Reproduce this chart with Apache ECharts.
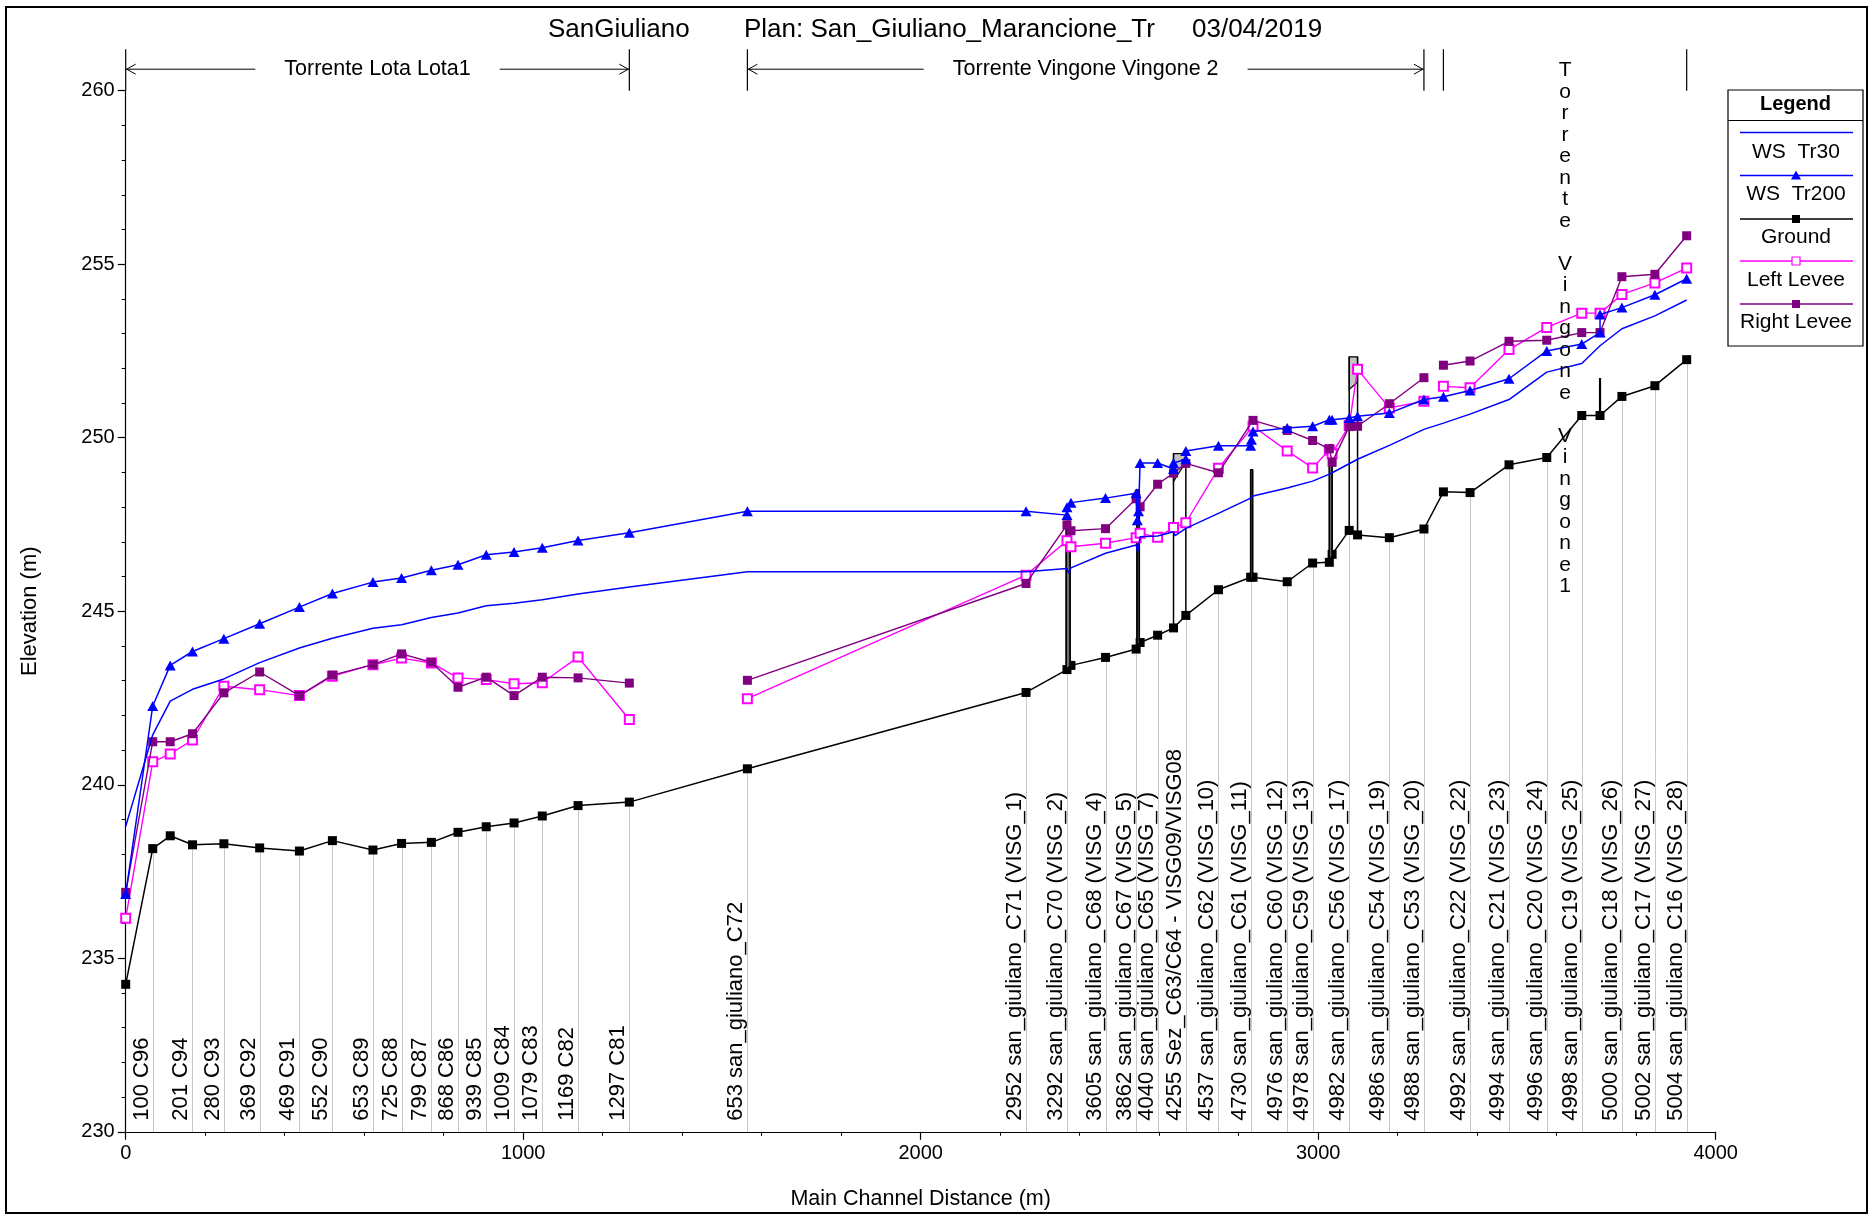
<!DOCTYPE html>
<html>
<head>
<meta charset="utf-8">
<script src="https://cdn.jsdelivr.net/npm/echarts@6/dist/echarts.min.js"></script>
<style>html,body{margin:0;padding:0;background:#fff}#c{width:1872px;height:1216px}</style>
</head>
<body>
<div id="c"></div>
<script>
const FONT = '"Liberation Sans", Arial, sans-serif';

// ---------------- DATA ----------------
const groundX = [0,68,112,168,247,337,437,520,622,694,769,836,907,977,1048,1138,1267,
  1564,2265,2368,2378,2465,2542,2552,2596,2636,2667,2749,2830,2836,2922,2986,3028,3035,3078,3099,3179,3266,
  3315,3382,3480,3575,3663,3709,3764,3847,3927];
const groundY = [234.25,238.16,238.53,238.27,238.30,238.18,238.09,238.39,238.12,238.31,238.34,238.63,238.79,238.90,239.10,239.40,239.50,
  240.46,242.66,243.32,243.44,243.67,243.91,244.10,244.31,244.52,244.88,245.62,245.98,245.98,245.85,246.39,246.41,246.64,247.33,247.20,247.12,247.37,
  248.44,248.42,249.22,249.43,250.64,250.64,251.19,251.50,252.25];

const wsTr30X = [0,68,112,168,247,337,437,520,622,694,769,836,907,977,1048,1138,1267,
  1564,2265,2368,2372,2378,2465,2542,2546,2552,2596,2636,2640,2667,2749,2830,2836,2922,2986,3028,3035,3078,3099,3179,3266,
  3315,3382,3480,3575,3663,3709,3764,3847,3927];
const wsTr30Y = [238.80,241.44,242.41,242.75,243.05,243.52,243.94,244.22,244.51,244.61,244.82,244.95,245.16,245.23,245.33,245.50,245.70,
  246.14,246.14,246.23,246.10,246.25,246.67,246.91,246.71,247.15,247.17,247.29,247.18,247.39,247.82,248.26,248.32,248.55,248.75,248.95,248.99,249.25,249.38,249.78,250.24,
  250.42,250.68,251.10,251.89,252.14,252.65,253.14,253.51,253.97];

const wsTr200X = [0,68,112,168,247,337,437,520,622,694,769,836,907,977,1048,1138,1267,
  1564,2265,2368,2368,2378,2465,2542,2545,2548,2552,2596,2636,2636,2667,2667,2749,2830,2832,2836,2922,2986,3028,3035,3078,3099,3179,3266,
  3315,3382,3480,3575,3663,3709,3709,3764,3847,3927];
const wsTr200Y = [236.85,242.27,243.44,243.84,244.21,244.64,245.12,245.51,245.84,245.96,246.18,246.34,246.63,246.71,246.83,247.04,247.26,
  247.88,247.88,247.77,248.00,248.13,248.26,248.40,247.62,247.88,249.27,249.27,249.10,249.27,249.38,249.62,249.77,249.77,249.94,250.18,250.28,250.33,250.52,250.52,250.57,250.62,250.71,251.10,
  251.18,251.36,251.70,252.50,252.70,253.03,253.55,253.75,254.12,254.58];

const leftLeveeX = [0,68,112,168,247,337,437,520,622,694,769,836,907,977,1048,1138,1267,
  1564,1564,2265,2368,2378,2465,2542,2552,2596,2636,2667,2749,2836,2922,2986,3028,3035,3078,3099,3179,3266,
  3315,3315,3382,3480,3575,3663,3709,3764,3847,3927];
const leftLeveeY = [236.15,240.66,240.89,241.29,242.84,242.74,242.57,243.13,243.46,243.65,243.51,243.08,243.03,242.91,242.94,243.68,241.88,
  null,242.48,246.04,247.03,246.86,246.96,247.12,247.25,247.13,247.41,247.55,249.12,250.33,249.62,249.13,249.65,249.54,250.35,251.97,250.86,251.05,
  null,251.48,251.44,252.54,253.18,253.59,253.59,254.13,254.46,254.89];

const rightLeveeX = [0,68,112,168,247,337,437,520,622,694,769,836,907,977,1048,1138,1267,
  1564,1564,2265,2368,2378,2465,2542,2552,2596,2636,2667,2749,2836,2922,2986,3028,3035,3078,3099,3179,3266,
  3315,3315,3382,3480,3575,3663,3709,3764,3847,3927];
const rightLeveeY = [236.90,241.24,241.24,241.47,242.65,243.25,242.57,243.16,243.46,243.77,243.53,242.81,243.10,242.57,243.10,243.08,242.93,
  null,243.01,245.80,247.49,247.32,247.38,248.24,248.01,248.66,248.98,249.26,248.99,250.50,250.21,249.92,249.68,249.29,250.32,250.33,250.98,251.73,
  null,252.09,252.21,252.78,252.81,253.03,253.03,254.64,254.71,255.82];

// labelled cross sections
const sectionX = [68,168,247,337,437,520,622,694,769,836,907,977,1048,1138,1267,
  1564,2265,2368,2465,2542,2596,2667,2749,2830,2922,2986,3078,3179,3266,
  3382,3480,3575,3663,3764,3847,3927];
const sectionLabels = ['100 C96','201 C94','280 C93','369 C92','469 C91','552 C90','653 C89','725 C88','799 C87','868 C86','939 C85','1009 C84','1079 C83','1169 C82','1297 C81',
  '653 san_giuliano_C72','2952 san_giuliano_C71 (VISG_1)','3292 san_giuliano_C70 (VISG_2)','3605 san_giuliano_C68 (VISG_4)','3862 san_giuliano_C67 (VISG_5)','4040 san_giuliano_C65 (VISG_7)','4255 Sez_C63/C64 - VISG09/VISG08','4537 san_giuliano_C62 (VISG_10)','4730 san_giuliano_C61 (VISG_11)','4976 san_giuliano_C60 (VISG_12)','4978 san_giuliano_C59 (VISG_13)','4982 san_giuliano_C56 (VISG_17)','4986 san_giuliano_C54 (VISG_19)','4988 san_giuliano_C53 (VISG_20)',
  '4992 san_giuliano_C22 (VISG_22)','4994 san_giuliano_C21 (VISG_23)','4996 san_giuliano_C20 (VISG_24)','4998 san_giuliano_C19 (VISG_25)','5000 san_giuliano_C18 (VISG_26)','5002 san_giuliano_C17 (VISG_27)','5004 san_giuliano_C16 (VISG_28)'];

// hydraulic structures (bridges / weirs)
const structX1 = [2366,2544,2636,2830,3028,3078,3709];
const structX2 = [2376,2550,2667,2835,3035,3099,3709];
const structBaseL = [243.32,243.91,244.52,245.98,246.41,247.33,250.64];
const structBaseR = [243.44,244.10,244.88,245.98,246.64,247.20,250.64];
const structTop = [247.60,248.50,249.54,249.08,249.80,252.33,251.72];
const structFillL = [243.32,243.91,248.74,245.98,246.41,251.39,250.64];
const structFillR = [243.44,244.10,249.30,245.98,246.64,251.60,250.64];

// reaches
const reachStart = [0,1564,3315];
const reachEnd = [1267,3266,3927];
const reachNames = ['Torrente Lota Lota1','Torrente Vingone Vingone 2','Torrente Vingone Vingone1'];

const xTicks = {min:0,max:4000,interval:1000};
const yTicks = {min:230,max:260,interval:5};

const legendNames = ['WS  Tr30','WS  Tr200','Ground','Left Levee','Right Levee'];

// ---------------- HELPERS ----------------
function pairs(xs, ys){ return xs.map((x,i)=>[x, ys[i]==null ? '-' : ys[i]]); }
const mctx = document.createElement('canvas').getContext('2d');
function textW(s, size){ mctx.font = size + 'px ' + FONT; return mctx.measureText(s).width; }
const sectionGround = sectionX.map(x => groundY[groundX.indexOf(x)]);

const chart = echarts.init(document.getElementById('c'), null, {width:1872, height:1216});

const axisCommon = {
  axisLine:{show:true, lineStyle:{color:'#000', width:1.2}},
  axisTick:{show:true, length:8, inside:false, lineStyle:{color:'#000', width:1.2}},
  minorTick:{show:true, splitNumber:5, length:4, lineStyle:{color:'#000', width:1}},
  splitLine:{show:false}
};

// legend graphic
const LG = {x:1728, y:90, w:135, h:256};
const legendChildren = [
  {type:'rect', shape:{x:LG.x, y:LG.y, width:LG.w, height:LG.h}, style:{fill:'#fff', stroke:'#000', lineWidth:1.2}},
  {type:'text', x:LG.x+LG.w/2, y:104, style:{text:'Legend', font:'bold 20px '+FONT, fill:'#000', align:'center', verticalAlign:'middle'}},
  {type:'line', shape:{x1:LG.x, y1:120.5, x2:LG.x+LG.w, y2:120.5}, style:{stroke:'#000', lineWidth:1.2}}
];
const lgLineY = [132.5,175.5,219,261,304];
const lgTextY = [152,194.5,237,280,322.5];
const lgColors = ['#0000ff','#0000ff','#000000','#ff00ff','#800080'];
legendNames.forEach((n,i)=>{
  legendChildren.push({type:'line', shape:{x1:1740, y1:lgLineY[i], x2:1853, y2:lgLineY[i]}, style:{stroke:lgColors[i], lineWidth:1.5}});
  const cx = 1796, cy = lgLineY[i];
  if(i===1) legendChildren.push({type:'polygon', shape:{points:[[cx,cy-5],[cx-5,cy+4],[cx+5,cy+4]]}, style:{fill:'#0000ff'}});
  if(i===2) legendChildren.push({type:'rect', shape:{x:cx-4,y:cy-4,width:8,height:8}, style:{fill:'#000'}});
  if(i===3) legendChildren.push({type:'rect', shape:{x:cx-4,y:cy-4,width:8,height:8}, style:{fill:'#fff', stroke:'#ff00ff', lineWidth:1.2}});
  if(i===4) legendChildren.push({type:'rect', shape:{x:cx-4,y:cy-4,width:8,height:8}, style:{fill:'#800080'}});
  legendChildren.push({type:'text', x:cx, y:lgTextY[i], style:{text:n, font:'21px '+FONT, fill:'#000', align:'center', verticalAlign:'middle'}});
});

const option = {
  animation:false,
  backgroundColor:'#fff',
  grid:{left:125.7, right:156.3, top:90.7, bottom:84.2, containLabel:false},
  xAxis:Object.assign({}, axisCommon, {type:'value', min:xTicks.min, max:xTicks.max, interval:xTicks.interval,
    name:'Main Channel Distance (m)', nameLocation:'middle', nameGap:56,
    nameTextStyle:{color:'#000', fontSize:21.5, fontFamily:FONT},
    axisLabel:{color:'#000', fontSize:20, fontFamily:FONT, margin:12, formatter:v=>String(v)}}),
  yAxis:Object.assign({}, axisCommon, {type:'value', min:yTicks.min, max:yTicks.max, interval:yTicks.interval,
    name:'Elevation (m)', nameLocation:'middle', nameGap:85,
    nameTextStyle:{color:'#000', fontSize:22, fontFamily:FONT},
    axisLabel:{color:'#000', fontSize:20, fontFamily:FONT, margin:11, formatter:v=>String(v)}}),
  graphic:[
    {type:'rect', shape:{x:6, y:7, width:1861, height:1206}, style:{fill:'none', stroke:'#000', lineWidth:2}, z:-10},
    {type:'text', x:548, y:30, style:{text:'SanGiuliano', font:'26px '+FONT, fill:'#000', verticalAlign:'middle'}},
    {type:'text', x:744, y:30, style:{text:'Plan: San_Giuliano_Marancione_Tr', font:'26px '+FONT, fill:'#000', verticalAlign:'middle'}},
    {type:'text', x:1192, y:30, style:{text:'03/04/2019', font:'26px '+FONT, fill:'#000', verticalAlign:'middle'}},
    {type:'group', children:legendChildren, z:100}
  ],
  series:[
    // section lines + labels
    {type:'custom', coordinateSystem:'cartesian2d', silent:true, z:1,
      data: sectionX.map((x,i)=>[x, sectionGround[i]]),
      renderItem:(params, api)=>{
        const x = api.value(0), g = api.value(1);
        const t = api.coord([x,g]), b = api.coord([x,yTicks.min]);
        const px = Math.round(t[0]) + 0.5;
        return {type:'group', children:[
          {type:'line', shape:{x1:px, y1:t[1], x2:px, y2:b[1]}, style:{stroke:'#c8c8c8', lineWidth:1}},
          {type:'text', x:px-1, y:b[1]-11, rotation:Math.PI/2,
            style:{text:sectionLabels[params.dataIndex], font:'22px '+FONT, fill:'#000', align:'left', verticalAlign:'bottom'}}
        ]};
      }},
    // ground
    {type:'line', name:'Ground', data:pairs(groundX, groundY), symbol:'rect', symbolSize:9, z:3,
      lineStyle:{color:'#000', width:1.5}, itemStyle:{color:'#000'}},
    // structures
    {type:'custom', coordinateSystem:'cartesian2d', silent:true, z:4,
      data: structX1.map((x,i)=>[x, structX2[i], structBaseL[i], structBaseR[i], structTop[i], structFillL[i], structFillR[i]]),
      renderItem:(params, api)=>{
        const x1=api.value(0), x2=api.value(1), bl=api.value(2), br=api.value(3), tp=api.value(4), fl=api.value(5), fr=api.value(6);
        const children = [];
        if(x1===x2){
          const a=api.coord([x1,bl]), c=api.coord([x1,tp]);
          children.push({type:'line', shape:{x1:a[0],y1:a[1],x2:c[0],y2:c[1]}, style:{stroke:'#000', lineWidth:2.2}});
          return {type:'group', children};
        }
        const full = (fl===bl && fr===br);
        const p1=api.coord([x1,tp]), p2=api.coord([x2,tp]), p3=api.coord([x2,fr]), p4=api.coord([x1,fl]);
        children.push({type:'polygon', shape:{points:[p1,p2,p3,p4]}, style:{fill: full ? '#6e6e6e' : '#c4c4c4', stroke:'#000', lineWidth:1.2}});
        const a=api.coord([x1,bl]), c=api.coord([x2,br]);
        children.push({type:'line', shape:{x1:a[0],y1:a[1],x2:p1[0],y2:p1[1]}, style:{stroke:'#000', lineWidth:1.5}});
        children.push({type:'line', shape:{x1:c[0],y1:c[1],x2:p2[0],y2:p2[1]}, style:{stroke:'#000', lineWidth:1.5}});
        return {type:'group', children};
      }},
    // left levee
    {type:'line', name:'Left Levee', data:pairs(leftLeveeX, leftLeveeY), symbol:'emptyRect', symbolSize:9, z:5, connectNulls:false,
      lineStyle:{color:'#ff00ff', width:1.4}, itemStyle:{color:'#ff00ff', borderColor:'#ff00ff', borderWidth:1.2}},
    // right levee
    {type:'line', name:'Right Levee', data:pairs(rightLeveeX, rightLeveeY), symbol:'rect', symbolSize:9, z:6, connectNulls:false,
      lineStyle:{color:'#800080', width:1.4}, itemStyle:{color:'#800080'}},
    // WS Tr30
    {type:'line', name:'WS  Tr30', data:pairs(wsTr30X, wsTr30Y), symbol:'none', z:7,
      lineStyle:{color:'#0000ff', width:1.5}},
    // WS Tr200
    {type:'line', name:'WS  Tr200', data:pairs(wsTr200X, wsTr200Y), symbol:'triangle', symbolSize:[11,10], z:8,
      lineStyle:{color:'#0000ff', width:1.5}, itemStyle:{color:'#0000ff'}},
    // reach annotations on top
    {type:'custom', coordinateSystem:'cartesian2d', silent:true, z:9, clip:false,
      data: reachStart.map((s,i)=>[s, reachEnd[i]]),
      renderItem:(params, api)=>{
        const s=api.value(0), e=api.value(1), name=reachNames[params.dataIndex];
        const a=api.coord([s,yTicks.max]), b=api.coord([e,yTicks.max]);
        const topY = a[1]-41.5, arrY = a[1]-21.5;
        const ch = [];
        ch.push({type:'line', shape:{x1:a[0],y1:a[1],x2:a[0],y2:topY}, style:{stroke:'#000', lineWidth:1.2}});
        ch.push({type:'line', shape:{x1:b[0],y1:b[1],x2:b[0],y2:topY}, style:{stroke:'#000', lineWidth:1.2}});
        const fs = 21.5;
        const w = textW(name, fs), span = b[0]-a[0], cx = (a[0]+b[0])/2;
        if(w + 80 < span){
          const gap = 29;
          ch.push({type:'line', shape:{x1:a[0],y1:arrY,x2:cx-w/2-gap,y2:arrY}, style:{stroke:'#000', lineWidth:1}});
          ch.push({type:'line', shape:{x1:cx+w/2+gap,y1:arrY,x2:b[0],y2:arrY}, style:{stroke:'#000', lineWidth:1}});
          ch.push({type:'polyline', shape:{points:[[a[0]+10,arrY-5],[a[0]+1,arrY],[a[0]+10,arrY+5]]}, style:{stroke:'#000', fill:null, lineWidth:1}});
          ch.push({type:'polyline', shape:{points:[[b[0]-10,arrY-5],[b[0]-1,arrY],[b[0]-10,arrY+5]]}, style:{stroke:'#000', fill:null, lineWidth:1}});
          ch.push({type:'text', x:cx, y:arrY, style:{text:name, font:fs+'px '+FONT, fill:'#000', align:'center', verticalAlign:'middle'}});
        } else {
          const stacked = name.split('').join('\n');
          ch.push({type:'text', x:cx, y:a[1]-31, style:{text:stacked, font:'21px '+FONT, fill:'#000', align:'center', verticalAlign:'top', lineHeight:21.5}});
        }
        return {type:'group', children:ch};
      }}
  ]
};
chart.setOption(option);
</script>
</body>
</html>
